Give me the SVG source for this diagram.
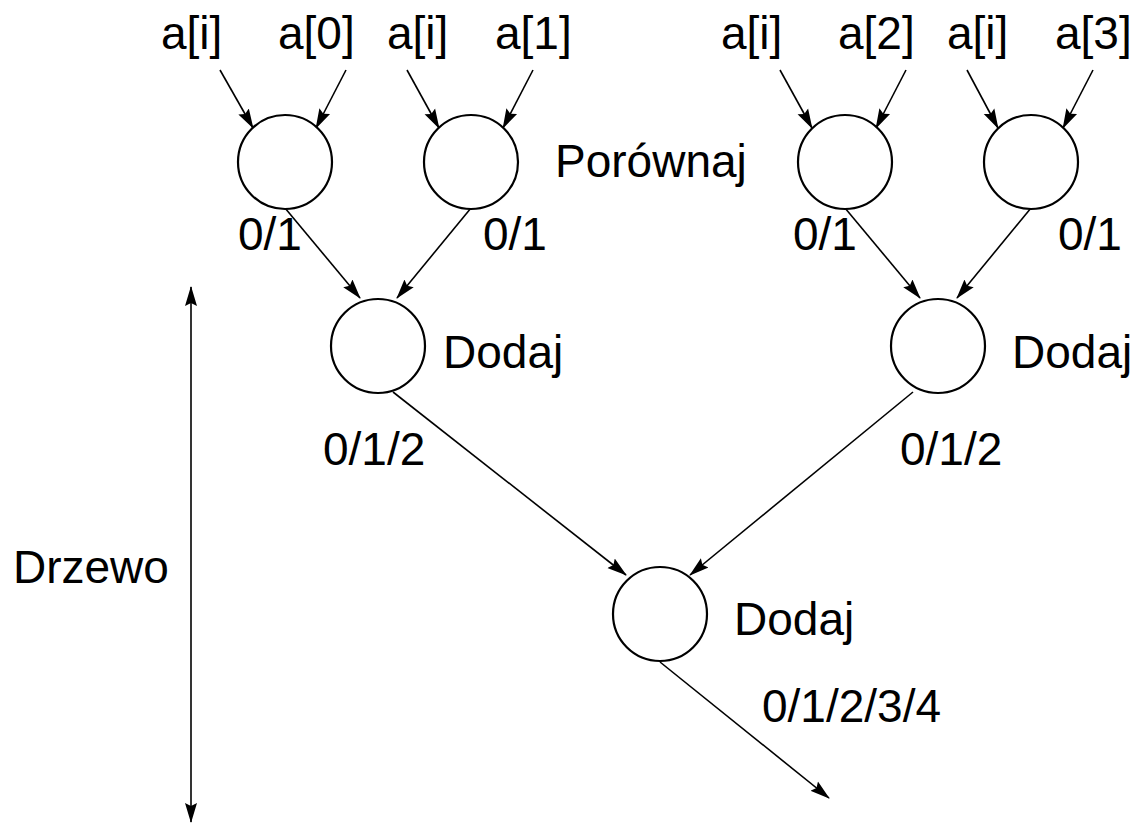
<svg xmlns="http://www.w3.org/2000/svg" width="1145" height="827" viewBox="0 0 1145 827">
  <style>
    .node { fill: #fff; stroke: #000; stroke-width: 2.2; }
    .edge { stroke: #000; stroke-width: 1.6; fill: none; marker-end: url(#arrow); }
    .lbl { font-family: "Liberation Sans", Arial, sans-serif; font-size: 46px; fill: #000; }
  </style>
  <defs>
    <marker id="arrow" markerUnits="userSpaceOnUse" markerWidth="20" markerHeight="14" refX="19" refY="7" orient="auto">
      <path d="M0,1 L20,7 L0,13 L3,7 Z" fill="#000"/>
    </marker>
    <marker id="arrowStart" markerUnits="userSpaceOnUse" markerWidth="20" markerHeight="14" refX="1" refY="7" orient="auto">
      <path d="M20,1 L0,7 L20,13 L17,7 Z" fill="#000"/>
    </marker>
  </defs>

  <!-- connectors -->
  <g id="connectors">
    <line class="edge" x1="220" y1="70" x2="253" y2="128"/>
    <line class="edge" x1="346" y1="70" x2="316" y2="128"/>
    <line class="edge" x1="407" y1="70" x2="439" y2="128"/>
    <line class="edge" x1="533" y1="70" x2="503" y2="128"/>
    <line class="edge" x1="780" y1="70" x2="812" y2="128"/>
    <line class="edge" x1="906" y1="70" x2="876" y2="128"/>
    <line class="edge" x1="967" y1="70" x2="998" y2="128"/>
    <line class="edge" x1="1093" y1="70" x2="1063" y2="128"/>

    <line class="edge" x1="285" y1="208" x2="360" y2="298"/>
    <line class="edge" x1="471" y1="208" x2="397" y2="298"/>
    <line class="edge" x1="845" y1="208" x2="920" y2="298"/>
    <line class="edge" x1="1031" y1="208" x2="957" y2="298"/>

    <line class="edge" x1="393" y1="392" x2="626" y2="575"/>
    <line class="edge" x1="913" y1="392" x2="690" y2="575"/>

    <line class="edge" x1="660" y1="662" x2="829" y2="798"/>

    <line class="edge" x1="191" y1="287" x2="191" y2="822" marker-start="url(#arrowStart)"/>
  </g>

  <!-- compare nodes -->
  <g id="cmp0"><circle class="node" cx="285" cy="162" r="47"/></g>
  <g id="cmp1"><circle class="node" cx="471" cy="162" r="47"/></g>
  <g id="cmp2"><circle class="node" cx="845" cy="162" r="47"/></g>
  <g id="cmp3"><circle class="node" cx="1031" cy="162" r="47"/></g>

  <!-- adder nodes -->
  <g id="add0"><circle class="node" cx="378" cy="346" r="47"/></g>
  <g id="add1"><circle class="node" cx="938" cy="346" r="47"/></g>
  <g id="add2"><circle class="node" cx="660" cy="614" r="47"/></g>

  <!-- labels -->
  <g id="labels">
    <text class="lbl" x="161" y="49">a[i]</text>
    <text class="lbl" x="278" y="49">a[0]</text>
    <text class="lbl" x="387" y="49">a[i]</text>
    <text class="lbl" x="495" y="49">a[1]</text>
    <text class="lbl" x="721" y="49">a[i]</text>
    <text class="lbl" x="838" y="49">a[2]</text>
    <text class="lbl" x="947" y="49">a[i]</text>
    <text class="lbl" x="1055" y="49">a[3]</text>

    <text class="lbl" x="555" y="177">Porównaj</text>

    <text class="lbl" x="238" y="250">0/1</text>
    <text class="lbl" x="483" y="250">0/1</text>
    <text class="lbl" x="793" y="250">0/1</text>
    <text class="lbl" x="1058" y="250">0/1</text>

    <text class="lbl" x="443" y="368">Dodaj</text>
    <text class="lbl" x="1012" y="368">Dodaj</text>

    <text class="lbl" x="323" y="465">0/1/2</text>
    <text class="lbl" x="900" y="465">0/1/2</text>

    <text class="lbl" x="13" y="583">Drzewo</text>

    <text class="lbl" x="734" y="635">Dodaj</text>
    <text class="lbl" x="762" y="722">0/1/2/3/4</text>
  </g>
</svg>
